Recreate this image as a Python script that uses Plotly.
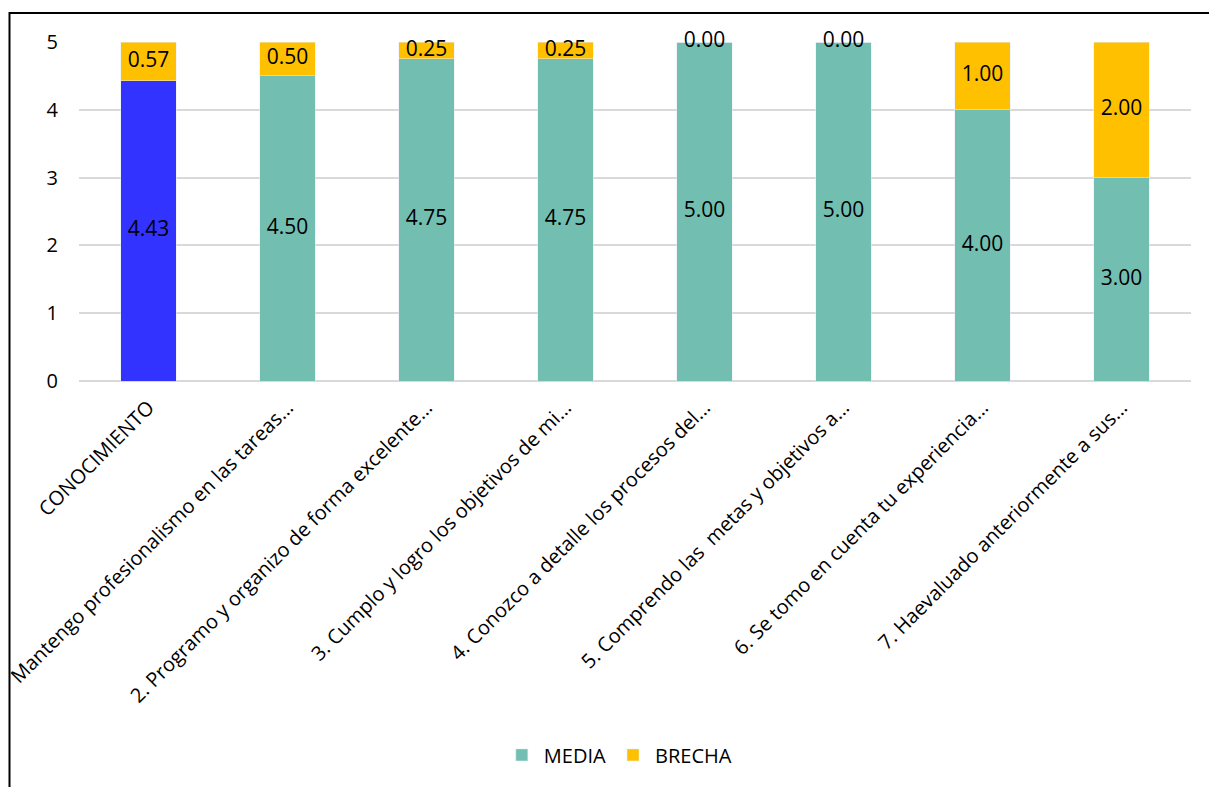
import plotly.graph_objects as go

categories = [
    "CONOCIMIENTO",
    "Mantengo profesionalismo en las tareas...",
    "2. Programo y organizo de forma excelente...",
    "3. Cumplo y logro los objetivos de mi...",
    "4. Conozco a detalle los procesos del...",
    "5. Comprendo las  metas y objetivos a...",
    "6. Se tomo en cuenta tu experiencia...",
    "7. Haevaluado anteriormente a sus...",
]
media = [4.43, 4.50, 4.75, 4.75, 5.00, 5.00, 4.00, 3.00]
brecha = [0.57, 0.50, 0.25, 0.25, 0.00, 0.00, 1.00, 2.00]

TEAL = "#72BFB1"
GOLD = "#FFC000"
BLUE = "#3333FF"
FONT = "Open Sans"

fig = go.Figure()

# summary bar (first category) drawn in its own colour
fig.add_trace(go.Bar(
    x=categories[:1], y=media[:1], marker_color=BLUE, width=0.4,
    showlegend=False, hoverinfo="skip",
))
fig.add_trace(go.Bar(
    x=categories[1:], y=media[1:], name="MEDIA", marker_color=TEAL, width=0.4,
))
fig.add_trace(go.Bar(
    x=categories, y=brecha, name="BRECHA", marker_color=GOLD, width=0.4,
))

# value labels: centred in each segment
fig.add_trace(go.Scatter(
    x=categories, y=[m / 2 for m in media], mode="text",
    text=[f"{m:.2f}" for m in media], textposition="middle center",
    textfont=dict(family=FONT, size=21, color="black"),
    showlegend=False, hoverinfo="skip",
))
fig.add_trace(go.Scatter(
    x=categories, y=[m + b / 2 for m, b in zip(media, brecha)], mode="text",
    text=[f"{b:.2f}" for b in brecha], textposition="middle center",
    textfont=dict(family=FONT, size=21, color="black"),
    showlegend=False, hoverinfo="skip", cliponaxis=False,
))

fig.update_layout(
    barmode="stack",
    width=1209, height=787,
    margin=dict(l=79, r=18, t=42, b=406),
    paper_bgcolor="white", plot_bgcolor="white",
    font=dict(family=FONT, size=20, color="black"),
    legend=dict(
        orientation="h", x=0.485, xanchor="center", y=-1.103, yanchor="middle",
        font=dict(family=FONT, size=20, color="black"),
        traceorder="normal", itemwidth=34,
    ),
    xaxis=dict(
        tickangle=-45, tickfont=dict(family=FONT, size=20, color="black"),
        showgrid=False, showline=False, ticks="", automargin=False,
        ticklabelstandoff=10,
    ),
    yaxis=dict(
        range=[0, 5], dtick=1, tickformat="d",
        tickfont=dict(family=FONT, size=20, color="black"),
        showgrid=True, gridcolor="#D9D9D9", gridwidth=1.5,
        zeroline=True, zerolinecolor="#D9D9D9", zerolinewidth=1.5,
        ticks="", ticklen=0, showline=False, automargin=False,
        ticklabelstandoff=20,
    ),
    shapes=[dict(
        type="rect", xref="paper", yref="paper",
        x0=-0.0625, x1=1.02, y0=-1.25, y1=1.0855,
        line=dict(color="black", width=2), fillcolor="rgba(0,0,0,0)",
        layer="below",
    )],
)

fig.write_html("out.html")
